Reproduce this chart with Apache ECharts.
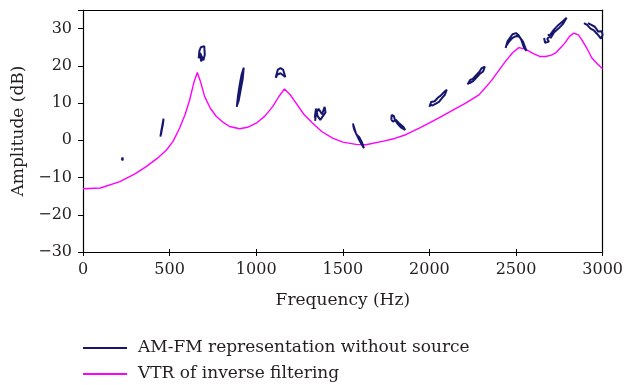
<!DOCTYPE html>
<html>
<head>
<meta charset="utf-8">
<script src="https://cdn.jsdelivr.net/npm/echarts@6/dist/echarts.min.js"></script>
<style>
  html, body { margin: 0; padding: 0; background: #fff; }
  #chart { width: 626px; height: 385px; }
</style>
</head>
<body>
<div id="chart"></div>
<script>
// Legend names
const amfmName = 'AM-FM representation without source';
const vtrName = 'VTR of inverse filtering';

// VTR curve of inverse filtering: [Hz, dB]
const vtrCurve = [
  [0, -13], [100, -12.8], [213, -11.1], [300, -9.0], [367, -7.0], [430, -4.8],
  [482, -2.6], [520, -0.3], [558, 3.3], [590, 7.0], [616, 10.9], [640, 15.5],
  [660, 18.2], [680, 15.5], [702, 11.8], [735, 8.6], [770, 6.4], [810, 4.8],
  [846, 3.7], [904, 3.1], [950, 3.5], [1000, 4.6], [1050, 6.5], [1096, 9.1],
  [1130, 11.7], [1163, 13.8], [1195, 12.3], [1230, 10.0], [1275, 7.0], [1326, 4.6],
  [1380, 2.3], [1441, 0.6], [1500, -0.5], [1576, -1.1], [1633, -1.2], [1729, -0.3],
  [1800, 0.5], [1863, 1.5], [1950, 3.5], [2055, 6.0], [2130, 8.0], [2209, 10.0],
  [2286, 12.2], [2330, 14.5], [2362, 16.3], [2400, 18.7], [2439, 21.2], [2480, 23.5],
  [2516, 24.9], [2554, 24.5], [2600, 23.3], [2640, 22.5], [2670, 22.5], [2700, 22.8],
  [2727, 23.4], [2760, 25.0], [2785, 26.3], [2810, 28.0], [2834, 28.8], [2860, 28.3],
  [2880, 27.0], [2910, 24.6], [2938, 22.1], [2970, 20.5], [3000, 19.2]
];

// AM-FM tracks, one small scribble per formant segment: [Hz, dB]
const amfm1 = [[224, -5.3], [228, -4.6], [234, -4.9], [230, -5.4], [225, -5.0]];
const amfm2 = [[447, 1.0], [452, 2.5], [458, 4.0], [465, 5.8], [462, 4.5], [455, 2.8], [450, 1.5]];
const amfm3 = [[668, 22.0], [672, 24.0], [680, 25.0], [690, 24.5], [700, 25.3], [703, 23.0],
  [695, 21.5], [685, 22.5], [676, 23.5], [682, 21.2], [690, 22.0]];
const amfm4 = [[888, 9.0], [895, 12.0], [905, 15.0], [915, 17.5], [928, 19.5], [922, 16.5],
  [910, 13.5], [898, 10.5], [890, 9.5]];
const amfm5 = [[1112, 16.8], [1125, 19.0], [1140, 19.4], [1155, 19.0], [1168, 17.0], [1160, 17.5],
  [1140, 18.0], [1120, 17.6], [1115, 16.8]];
const amfm6 = [[1340, 5.2], [1345, 7.0], [1360, 8.5], [1380, 7.0], [1395, 9.0], [1400, 7.5],
  [1385, 6.5], [1370, 5.5], [1355, 6.5], [1345, 8.5], [1338, 6.0]];
const amfm7 = [[1558, 4.5], [1575, 2.0], [1590, 0.5], [1605, -0.8], [1622, -2.1], [1610, -0.5],
  [1595, 0.8], [1580, 1.5], [1565, 3.0], [1560, 4.0]];
const amfm8 = [[1780, 5.5], [1782, 6.8], [1795, 6.5], [1800, 5.6], [1815, 4.5], [1835, 3.5],
  [1860, 2.8], [1850, 3.6], [1825, 4.6], [1805, 5.5], [1790, 5.0], [1780, 5.5]];
const amfm9 = [[2000, 9.0], [2010, 10.3], [2030, 10.5], [2050, 11.5], [2065, 12.0], [2085, 13.0],
  [2100, 13.6], [2090, 12.3], [2070, 11.2], [2055, 10.3], [2035, 9.8], [2015, 9.3], [2005, 9.8]];
const amfm10 = [[2220, 15.0], [2235, 16.2], [2250, 16.5], [2270, 17.5], [2290, 18.5], [2300, 19.3],
  [2320, 19.8], [2310, 18.5], [2290, 17.8], [2270, 16.8], [2250, 15.8], [2230, 15.3]];
const amfm11 = [[2440, 24.8], [2450, 26.5], [2465, 27.5], [2480, 28.5], [2500, 28.8], [2515, 28.2],
  [2530, 27.0], [2545, 25.0], [2560, 24.0], [2540, 26.5], [2520, 27.8], [2500, 28.0],
  [2480, 27.5], [2460, 26.5], [2445, 25.5]];
const amfm12 = [[2662, 27.5], [2668, 26.2], [2690, 26.5], [2680, 27.2], [2700, 28.5], [2720, 29.8],
  [2745, 31.0], [2770, 32.0], [2792, 32.9], [2770, 31.2], [2745, 30.0], [2720, 29.0],
  [2700, 27.5], [2685, 28.5]];
const amfm13 = [[2892, 31.5], [2895, 32.0], [2910, 31.0], [2930, 30.0], [2950, 29.5], [2970, 28.5],
  [2990, 27.3], [3000, 28.3], [2995, 29.3], [2975, 29.2], [2955, 30.5], [2935, 31.0], [2915, 31.5]];
const amfmTracks = [amfm1, amfm2, amfm3, amfm4, amfm5, amfm6, amfm7, amfm8, amfm9, amfm10, amfm11, amfm12, amfm13];

const xTicks = { min: 0, max: 3000, interval: 500 };
const yTicks = { min: -30, max: 35, interval: 10 };

function drawVisualisation() {
  let chart = echarts.init(document.getElementById('chart'), null, { renderer: 'canvas' });

  const font = 'DejaVu Serif';
  const textColor = '#231f20';
  const blue = '#16166e';
  const magenta = '#ff00ff';
  const frameLine = { color: '#000', width: 1.2 };

  let series = amfmTracks.map(track => ({
    name: amfmName,
    type: 'line',
    data: track,
    showSymbol: false,
    color: blue,
    lineStyle: { color: blue, width: 2 },
    z: 3
  }));
  series.push({
    name: vtrName,
    type: 'line',
    data: vtrCurve,
    showSymbol: false,
    color: magenta,
    lineStyle: { color: magenta, width: 1.4 },
    z: 2
  });

  let option = {
    animation: false,
    backgroundColor: '#fff',
    textStyle: { fontFamily: font, color: textColor },
    grid: { left: 83, right: 22, top: 10, bottom: 133 },
    legend: {
      orient: 'vertical',
      left: 78,
      top: 334,
      height: 50,
      itemWidth: 44,
      itemHeight: 2,
      itemGap: 8,
      icon: 'rect',
      data: [{ name: amfmName }, { name: vtrName }],
      textStyle: { fontFamily: font, fontSize: 17, lineHeight: 18, color: textColor, padding: [0, 0, 0, 6] }
    },
    xAxis: [{
      type: 'value',
      min: xTicks.min, max: xTicks.max, interval: xTicks.interval,
      name: 'Frequency (Hz)',
      nameLocation: 'middle',
      nameGap: 40,
      nameTextStyle: { fontFamily: font, fontSize: 17, color: textColor },
      axisLine: { onZero: false, lineStyle: frameLine },
      axisTick: { length: 4, lineStyle: { color: '#000' } },
      axisLabel: { fontFamily: font, fontSize: 16, color: textColor, margin: 10, formatter: v => String(v) },
      splitLine: { show: false }
    }, {
      // inner half of the crossing ticks on the bottom axis
      type: 'value', position: 'bottom',
      min: xTicks.min, max: xTicks.max, interval: xTicks.interval,
      axisLine: { show: false, onZero: false },
      axisTick: { inside: true, length: 3, lineStyle: { color: '#000' } },
      axisLabel: { show: false },
      splitLine: { show: false }
    }, {
      // top frame
      type: 'value', position: 'top',
      min: xTicks.min, max: xTicks.max,
      axisLine: { show: true, onZero: false, lineStyle: frameLine },
      axisTick: { show: false },
      axisLabel: { show: false },
      splitLine: { show: false }
    }],
    yAxis: [{
      type: 'value',
      min: yTicks.min, max: yTicks.max, interval: yTicks.interval,
      name: 'Amplitude (dB)',
      nameLocation: 'middle',
      nameGap: 56,
      nameTextStyle: { fontFamily: font, fontSize: 17, color: textColor },
      axisLine: { show: true, onZero: false, lineStyle: frameLine },
      axisTick: { show: true, length: 5, lineStyle: { color: '#000' } },
      axisLabel: {
        fontFamily: font, fontSize: 16, color: textColor, margin: 11,
        formatter: v => v > 30 ? '' : (v < 0 ? '\u2212' + Math.abs(v) : String(v))
      },
      splitLine: { show: false }
    }, {
      // right frame
      type: 'value', position: 'right',
      min: yTicks.min, max: yTicks.max,
      axisLine: { show: true, onZero: false, lineStyle: frameLine },
      axisTick: { show: false },
      axisLabel: { show: false },
      splitLine: { show: false }
    }],
    series: series
  };

  chart.setOption(option);
}

window.addEventListener('load', drawVisualisation);
</script>
</body>
</html>
